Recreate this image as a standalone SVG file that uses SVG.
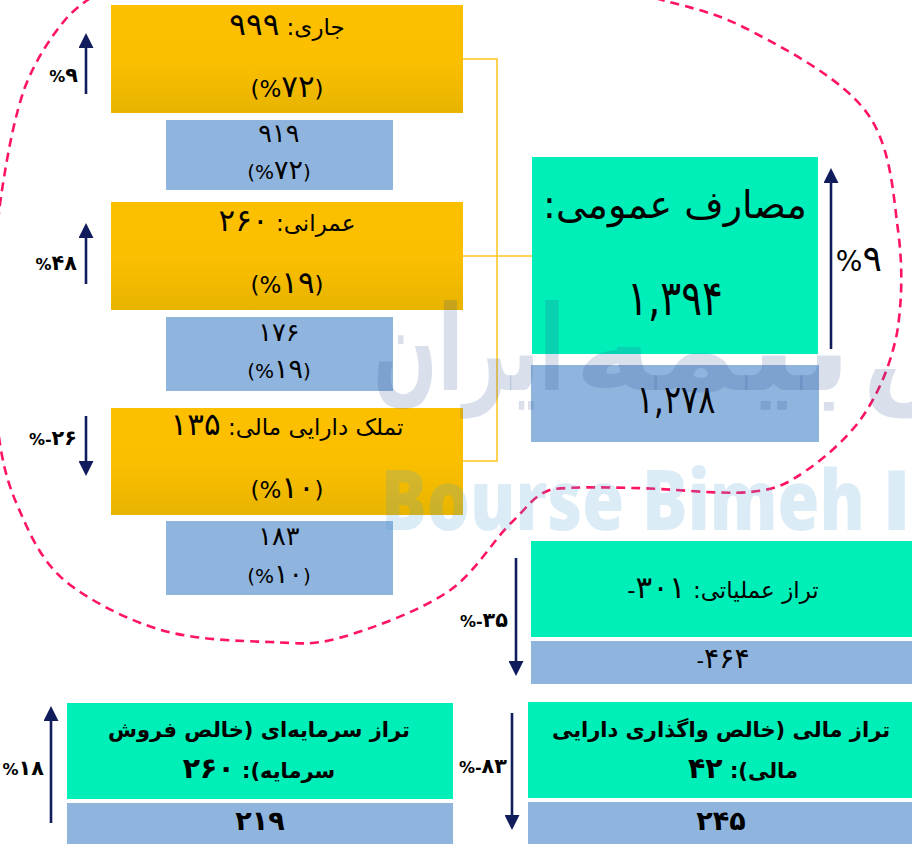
<svg xmlns="http://www.w3.org/2000/svg" width="912" height="844" viewBox="0 0 912 844">
  <defs>
    <linearGradient id="gold" x1="0" y1="0" x2="0" y2="1">
      <stop offset="0" stop-color="#FCC000"/>
      <stop offset="0.5" stop-color="#FBBF00"/>
      <stop offset="1" stop-color="#E8B400"/>
    </linearGradient>
    <marker id="head" viewBox="0 0 15 15" refX="1" refY="7.5" markerWidth="15" markerHeight="15" markerUnits="userSpaceOnUse" orient="auto">
      <path d="M0,0 L15,7.5 L0,15 z" fill="#101C5C"/>
    </marker>
    <style>
      .gold{fill:url(#gold)}
      .prev{fill:#8FB4DD}
      .mint{fill:#00EEB8}
      .t{font-family:"DejaVu Sans","Noto Sans Arabic",sans-serif;fill:#000;text-anchor:middle}
      .b{font-weight:bold}
      .d{font-size:1.35em}
      .pct{font-family:"DejaVu Sans",sans-serif;font-weight:bold;fill:#000;text-anchor:end}
      .pct .d{font-size:1.3em}
      .link{fill:none;stroke:#FFC21C;stroke-width:1.5}
      .trend{stroke:#101C5C;stroke-width:2.6;fill:none;marker-end:url(#head)}
      .zone{fill:none;stroke:#FF1464;stroke-width:2.6;stroke-dasharray:9 6}
      .wm-fa{font-family:"DejaVu Sans",sans-serif;font-weight:bold;font-size:118px;fill:#2C5395;fill-opacity:0.18}
      .wm-en{font-family:"Open Sans",sans-serif;font-weight:800;font-size:84px;fill:#50A0D7;fill-opacity:0.2}
    </style>
  </defs>

  <rect width="912" height="844" fill="#FFFFFF"/>

  <!-- dashed outline around the expenditure block -->
  <path class="zone" d="M380,-70 C468,-68 578,-23 640,-6 C702,11 715,12 753,32 C791,52 843,80 867,113 C891,146 893,193 898,230 C903,267 902,302 897,333 C891,363 880,390 865,413 C850,436 826,457 807,470 C788,483 779,489 750,492 C721,495 665,488 632,488 C599,487 575,487 553,489 C533,495 529,506 511,523 C493,540 475,574 446,593 C417,612 368,630 339,638 C310,646 300,643 270,642 C240,641 195,640 161,630 C127,620 88,600 64,580 C40,559 29,532 18,507 C7,482 2,461 -2,430 C-6,399 -9,360 -8,320 C-7,280 -4,229 2,190 C8,151 15,115 25,87 C36,59 51,37 65,20 C78,5 92,-3 110,-15 C180,-60 300,-75 380,-70 Z"/>

  <!-- bracket joining the three spending items to the total -->
  <g id="connectors">
    <polyline class="link" points="463,59 497,59 497,461 463,461"/>
    <line class="link" x1="463" y1="256" x2="532" y2="256"/>
  </g>

  <g id="n-current">
    <rect class="gold" x="111" y="5" width="352" height="108"/>
    <text class="t" x="287" y="35" font-size="23" direction="rtl">جاری: <tspan class="d">۹۹۹</tspan></text>
    <text class="t" x="287" y="97" font-size="23">(%<tspan class="d">۷۲</tspan>)</text>
  </g>
  <g id="n-current-prev">
    <rect class="prev" x="166" y="120" width="227" height="70"/>
    <text class="t" x="279" y="142" font-size="19"><tspan class="d">۹۱۹</tspan></text>
    <text class="t" x="279" y="179" font-size="20">(%<tspan class="d">۷۲</tspan>)</text>
  </g>

  <g id="n-capital">
    <rect class="gold" x="111" y="202" width="352" height="108"/>
    <text class="t" x="287" y="231" font-size="23" direction="rtl">عمرانی: <tspan class="d">۲۶۰</tspan></text>
    <text class="t" x="287" y="293" font-size="23">(%<tspan class="d">۱۹</tspan>)</text>
  </g>
  <g id="n-capital-prev">
    <rect class="prev" x="166" y="317" width="227" height="74"/>
    <text class="t" x="279" y="341" font-size="19"><tspan class="d">۱۷۶</tspan></text>
    <text class="t" x="279" y="378" font-size="20">(%<tspan class="d">۱۹</tspan>)</text>
  </g>

  <g id="n-assets">
    <rect class="gold" x="111" y="408" width="352" height="107"/>
    <text class="t" x="287" y="435" font-size="23" direction="rtl">تملک دارایی مالی: <tspan class="d">۱۳۵</tspan></text>
    <text class="t" x="287" y="498" font-size="23">(%<tspan class="d">۱۰</tspan>)</text>
  </g>
  <g id="n-assets-prev">
    <rect class="prev" x="166" y="521" width="227" height="74"/>
    <text class="t" x="279" y="545" font-size="19"><tspan class="d">۱۸۳</tspan></text>
    <text class="t" x="279" y="583" font-size="20">(%<tspan class="d">۱۰</tspan>)</text>
  </g>

  <g id="n-total">
    <rect class="mint" x="532" y="157" width="286" height="197"/>
    <text class="t" x="675" y="218" font-size="38" direction="rtl">مصارف عمومی:</text>
    <text class="t" x="675" y="315" font-size="49" textLength="96" lengthAdjust="spacingAndGlyphs">۱,۳۹۴</text>
  </g>
  <g id="n-total-prev">
    <rect class="prev" x="531" y="365" width="288" height="77"/>
    <text class="t" x="676" y="413" font-size="39" textLength="79" lengthAdjust="spacingAndGlyphs">۱,۲۷۸</text>
  </g>

  <g id="n-operating">
    <rect class="mint" x="531" y="541" width="381" height="96"/>
    <text class="t" x="723" y="598" font-size="23" direction="rtl">تراز عملیاتی: <tspan class="d">۳۰۱</tspan>-</text>
  </g>
  <g id="n-operating-prev">
    <rect class="prev" x="531" y="641" width="381" height="43"/>
    <text class="t" x="723" y="668" font-size="21">-<tspan class="d">۴۶۴</tspan></text>
  </g>

  <g id="n-capital-balance">
    <rect class="mint" x="67" y="703" width="386" height="96"/>
    <text class="t b" x="259" y="737" font-size="21" direction="rtl">تراز سرمایه‌ای (خالص فروش</text>
    <text class="t b" x="259" y="778" font-size="21" direction="rtl">سرمایه): <tspan class="d">۲۶۰</tspan></text>
  </g>
  <g id="n-capital-balance-prev">
    <rect class="prev" x="67" y="803" width="386" height="41"/>
    <text class="t b" x="260" y="830" font-size="20"><tspan class="d">۲۱۹</tspan></text>
  </g>

  <g id="n-financial-balance">
    <rect class="mint" x="528" y="702" width="384" height="96"/>
    <text class="t b" x="721" y="737" font-size="21" direction="rtl">تراز مالی (خالص واگذاری دارایی</text>
    <text class="t b" x="743" y="778" font-size="21" direction="rtl">مالی): <tspan class="d">۴۲</tspan></text>
  </g>
  <g id="n-financial-balance-prev">
    <rect class="prev" x="528" y="802" width="384" height="42"/>
    <text class="t b" x="721" y="830" font-size="20"><tspan class="d">۲۴۵</tspan></text>
  </g>

  <!-- year-on-year change indicators -->
  <g id="trends">
    <line class="trend" x1="86" y1="94" x2="86" y2="47"/>
    <text class="pct" x="78" y="82" font-size="16">%<tspan class="d">۹</tspan></text>
    <line class="trend" x1="86" y1="284" x2="86" y2="237"/>
    <text class="pct" x="77" y="270" font-size="16">%<tspan class="d">۴۸</tspan></text>
    <line class="trend" x1="86" y1="416" x2="86" y2="462"/>
    <text class="pct" x="77" y="445" font-size="16">%-<tspan class="d">۲۶</tspan></text>
    <line class="trend" x1="831" y1="349" x2="831" y2="182"/>
    <text class="pct" x="882" y="271" font-size="28" style="font-weight:normal">%<tspan class="d">۹</tspan></text>
    <line class="trend" x1="516" y1="558" x2="516" y2="662"/>
    <text class="pct" x="508" y="627" font-size="16">%-<tspan class="d">۳۵</tspan></text>
    <line class="trend" x1="51" y1="823" x2="51" y2="720"/>
    <text class="pct" x="44" y="775" font-size="16">%<tspan class="d">۱۸</tspan></text>
    <line class="trend" x1="512" y1="713" x2="512" y2="816"/>
    <text class="pct" x="507" y="773" font-size="16">%-<tspan class="d">۸۳</tspan></text>
  </g>

  <!-- watermark -->
  <g id="watermark">
    <text class="wm-fa" x="373" y="390" textLength="192" lengthAdjust="spacingAndGlyphs">ایران</text>
    <text class="wm-fa" x="574" y="390" textLength="278" lengthAdjust="spacingAndGlyphs">بیمه</text>
    <text class="wm-fa" x="862" y="390">بورس</text>
    <text class="wm-en" x="381" y="530" textLength="484" lengthAdjust="spacingAndGlyphs">Bourse Bimeh</text>
    <text class="wm-en" x="882" y="530">Iran</text>
  </g>
</svg>
